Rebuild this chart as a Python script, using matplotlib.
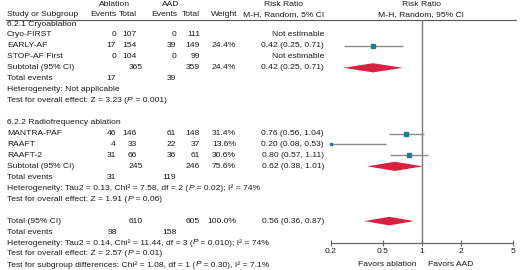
import matplotlib
matplotlib.use("Agg")
import matplotlib.pyplot as plt
from matplotlib.patches import Polygon
from matplotlib.font_manager import FontProperties

plt.rcParams['font.family'] = ['Liberation Sans', 'DejaVu Sans']
FS = 6.1

# ---------------- data ----------------
cryo_names = ["Cryo-FIRST", "EARLY-AF", "STOP-AF First"]
cryo_abl_events = [0, 17, 0]
cryo_abl_total = [107, 154, 104]
cryo_aad_events = [0, 39, 0]
cryo_aad_total = [111, 149, 99]
cryo_weight = [None, 24.4, None]
cryo_rr = [None, 0.42, None]
cryo_lo = [None, 0.25, None]
cryo_hi = [None, 0.71, None]
cryo_sub = dict(abl_total=365, aad_total=359, weight=24.4, rr=0.42, lo=0.25, hi=0.71,
                abl_events=17, aad_events=39)

rf_names = ["MANTRA-PAF", "RAAFT", "RAAFT-2"]
rf_abl_events = [46, 4, 31]
rf_abl_total = [146, 33, 66]
rf_aad_events = [61, 22, 36]
rf_aad_total = [148, 37, 61]
rf_weight = [31.4, 13.6, 30.6]
rf_rr = [0.76, 0.20, 0.80]
rf_lo = [0.56, 0.08, 0.57]
rf_hi = [1.04, 0.53, 1.11]
rf_sub = dict(abl_total=245, aad_total=246, weight=75.6, rr=0.62, lo=0.38, hi=1.01,
              abl_events=31, aad_events=119)

overall = dict(abl_total=610, aad_total=605, weight=100.0, rr=0.56, lo=0.36, hi=0.87,
               abl_events=98, aad_events=158)

tick_values = [0.2, 0.5, 1, 2, 5]
tick_labels = ["0.2", "0.5", "1", "2", "5"]

# ---------------- layout ----------------
W, H = 520, 270
fig = plt.figure(figsize=(W / 100, H / 100), dpi=100)
tx = fig.add_axes([0, 0, 1, 1])
tx.set_xlim(0, W)
tx.set_ylim(H, 0)
tx.axis('off')
renderer = fig.canvas.get_renderer()

TOP, BOT = 20.0, 242.7
X0, X1 = 331.0, 513.0
fa = fig.add_axes([X0 / W, (H - BOT) / H, (X1 - X0) / W, (BOT - TOP) / H])
fa.patch.set_alpha(0)
fa.set_xscale('log')
fa.set_xlim(0.2, 5)
fa.set_ylim(BOT, TOP)

def row_y(i):
    return 24.0 + 10.95 * i

C_NAME, C_AEV, C_ATOT, C_BEV, C_BTOT, C_W, C_RR = 7, 116, 137, 176, 200, 236, 324
TEAL = '#1b7f8e'
RED = '#d8203f'
GRAY = '#8c8c8c'
TXT = '#1a1a1a'

PROP_N = FontProperties(family='Liberation Sans', size=FS)
PROP_I = FontProperties(family='Liberation Sans', style='italic', size=FS)

def t(x, y, s, ha='left', **kw):
    tx.text(x, y, s, ha=ha, va='center', fontsize=FS, color=TXT, **kw)

def adv(s, prop):
    w1 = renderer.get_text_width_height_descent(s + "|", prop, False)[0]
    w2 = renderer.get_text_width_height_descent("|", prop, False)[0]
    return (w1 - w2) * 72.0 / fig.dpi * fig.dpi / 72.0

def rich(x, y, s):
    # segments between '*' are italic
    parts = s.split('*')
    cur = x
    for k, p in enumerate(parts):
        if not p:
            continue
        prop = PROP_I if k % 2 else PROP_N
        tx.text(cur, y, p, ha='left', va='center', fontproperties=prop, color=TXT)
        cur += adv(p, prop)

def fmt_rr(r, l, h):
    return f"{r:.2f} ({l:.2f}, {h:.2f})"

# header
t(114, 4, "Ablation", ha='center')
t(171, 4, "AAD", ha='center')
t(284, 4, "Risk Ratio", ha='center')
t(421, 4, "Risk Ratio", ha='center')
t(C_NAME, 14.5, "Study or Subgroup")
t(C_AEV, 14.5, "Events", ha='right')
t(C_ATOT, 14.5, "Total", ha='right')
t(C_BEV + 1, 14.5, "Events", ha='right')
t(C_BTOT, 14.5, "Total", ha='right')
t(C_W + 1, 14.5, "Weight", ha='right')
t(284, 14.5, "M-H, Random, 5% CI", ha='center')
t(421, 14.5, "M-H, Random, 95% CI", ha='center')
tx.plot([6, 516], [20, 20], color='#555555', lw=0.8)

def square(rr, lo, hi, w, y):
    fa.hlines(y, lo, hi, color=GRAY, lw=1.0)
    fa.plot([rr], [y], marker='s', ms=w * 0.105, color=TEAL, mec=TEAL, clip_on=False)

def diamond(rr, lo, hi, y, h=4.6):
    fa.add_patch(Polygon([(lo, y), (rr, y - h), (hi, y), (rr, y + h)],
                         closed=True, color=RED, lw=0))

def group(start, title, names, aev, atot, bev, btot, wt, rr, lo, hi, sub, het, test):
    t(C_NAME, row_y(start), title)
    for k in range(len(names)):
        y = row_y(start + 1 + k)
        t(C_NAME, y, names[k])
        t(C_AEV, y, str(aev[k]), ha='right')
        t(C_ATOT, y, str(atot[k]), ha='right')
        t(C_BEV, y, str(bev[k]), ha='right')
        t(C_BTOT, y, str(btot[k]), ha='right')
        if wt[k] is None:
            t(C_RR, y, "Not estimable", ha='right')
        else:
            t(C_W, y, f"{wt[k]:.1f}%", ha='right')
            t(C_RR, y, fmt_rr(rr[k], lo[k], hi[k]), ha='right')
            square(rr[k], lo[k], hi[k], wt[k], y)
    n = len(names)
    y = row_y(start + 1 + n)
    t(C_NAME, y, "Subtotal (95% CI)")
    t(C_ATOT + 6, y, str(sub['abl_total']), ha='right')
    t(C_BTOT, y, str(sub['aad_total']), ha='right')
    t(C_W, y, f"{sub['weight']:.1f}%", ha='right')
    t(C_RR, y, fmt_rr(sub['rr'], sub['lo'], sub['hi']), ha='right')
    diamond(sub['rr'], sub['lo'], sub['hi'], y)
    y = row_y(start + 2 + n)
    t(C_NAME, y, "Total events")
    t(C_AEV, y, str(sub['abl_events']), ha='right')
    t(C_BEV, y, str(sub['aad_events']), ha='right')
    rich(C_NAME, row_y(start + 3 + n), het)
    rich(C_NAME, row_y(start + 4 + n), test)

group(0, "6.2.1 Cryoablation", cryo_names, cryo_abl_events, cryo_abl_total,
      cryo_aad_events, cryo_aad_total, cryo_weight, cryo_rr, cryo_lo, cryo_hi, cryo_sub,
      "Heterogeneity: Not applicable",
      "Test for overall effect: Z = 3.23 (*P* = 0.001)")
group(9, "6.2.2 Radiofrequency ablation", rf_names, rf_abl_events, rf_abl_total,
      rf_aad_events, rf_aad_total, rf_weight, rf_rr, rf_lo, rf_hi, rf_sub,
      "Heterogeneity: Tau2 = 0.13, Chi² = 7.58, df = 2 (*P* = 0.02); I² = 74%",
      "Test for overall effect: Z = 1.91 (*P* = 0.06)")

y = row_y(18)
t(C_NAME, y, "Total (95% CI)")
t(C_ATOT + 6, y, str(overall['abl_total']), ha='right')
t(C_BTOT, y, str(overall['aad_total']), ha='right')
t(C_W, y, f"{overall['weight']:.1f}%", ha='right')
t(C_RR, y, fmt_rr(overall['rr'], overall['lo'], overall['hi']), ha='right')
diamond(overall['rr'], overall['lo'], overall['hi'], y, h=4.3)
y = row_y(19)
t(C_NAME, y, "Total events")
t(C_AEV + 1, y, str(overall['abl_events']), ha='right')
t(C_BEV + 1, y, str(overall['aad_events']), ha='right')
rich(C_NAME, row_y(20), "Heterogeneity: Tau2 = 0.14, Chi² = 11.44, df = 3 (*P* = 0.010); I² = 74%")
rich(C_NAME, row_y(21), "Test for overall effect: Z = 2.57 (*P* = 0.01)")
rich(C_NAME, row_y(22), "Test for subgroup differences: Chi² = 1.08, df = 1 (*P* = 0.30), I² = 7.1%")

# forest axes styling
fa.axvline(1, color='#7a7a7a', lw=1.0, zorder=0)
for s in ['top', 'right', 'left']:
    fa.spines[s].set_visible(False)
fa.spines['bottom'].set_color('#666666')
fa.spines['bottom'].set_linewidth(0.9)
fa.set_yticks([])
fa.set_xticks(tick_values)
fa.set_xticklabels(tick_labels)
fa.minorticks_off()
fa.tick_params(axis='x', direction='inout', length=4, width=0.8, color='#666666',
               labelsize=FS, pad=1.5, labelcolor=TXT)
tx.text(417, 264.5, "Favors ablation", ha='right', va='center', fontsize=FS, color=TXT)
tx.text(428, 264.5, "Favors AAD", ha='left', va='center', fontsize=FS, color=TXT)

fig.savefig("out.png", dpi=100)
